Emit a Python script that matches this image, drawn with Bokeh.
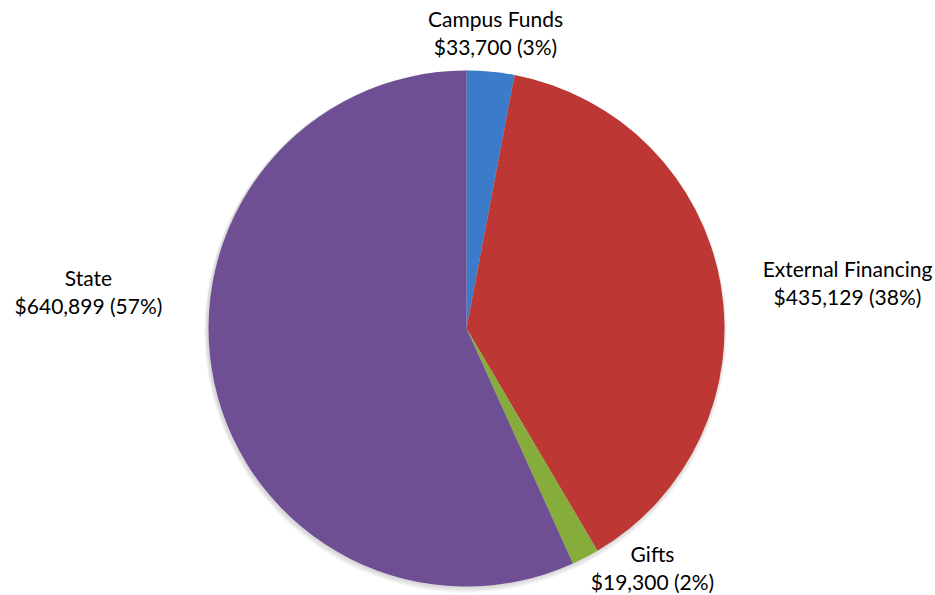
import math
from bokeh.plotting import figure
from bokeh.models import Range1d, ColumnDataSource
from bokeh.core.properties import value
from bokeh.embed import file_html
from bokeh.resources import INLINE

categories = ["Campus Funds", "External Financing", "Gifts", "State"]
amounts = [33700, 435129, 19300, 640899]
percent_labels = [3, 38, 2, 57]
colors = ["#3c7bca", "#bd3734", "#86ac3b", "#6f4f94"]

total = float(sum(amounts))
starts, ends = [], []
acc = 0.0
for v in amounts:
    a0 = math.pi / 2 - 2 * math.pi * acc / total
    acc += v
    a1 = math.pi / 2 - 2 * math.pi * acc / total
    starts.append(a0)
    ends.append(a1)

W, H = 935, 595
p = figure(width=W, height=H, output_backend="svg", toolbar_location=None,
           x_range=Range1d(0, W), y_range=Range1d(0, H), min_border=0)
p.axis.visible = False
p.grid.visible = False
p.outline_line_color = None
p.background_fill_color = "white"

cx, cy, r = 466, H - 328, 258

# soft shadow
for i, a in enumerate([0.05, 0.05, 0.05]):
    p.circle(x=cx - 1, y=cy - 1 - i, radius=r + 1 + i, fill_color="black",
             fill_alpha=a, line_color=None)

src = ColumnDataSource(dict(start=starts, end=ends, color=colors))
p.wedge(x=cx, y=cy, radius=r, start_angle="start", end_angle="end",
        direction="clock", fill_color="color", line_color=None, source=src)

# label positions (screen coords of line centers)
label_pos = [(495, 18), (847, 268), (652, 553), (88, 277)]
line_gap = 28
tx, ty1, ty2, t1, t2 = [], [], [], [], []
for name, v, pc, (lx, ly) in zip(categories, amounts, percent_labels, label_pos):
    tx.append(lx)
    ty1.append(H - ly)
    ty2.append(H - ly - line_gap)
    t1.append(name)
    t2.append(f"${v:,} ({pc}%)")

p.text(x=tx, y=ty1, text=t1, text_align="center", text_baseline="middle",
       text_font=value("Lato"), text_font_size="21px", text_color="#000000")
p.text(x=tx, y=ty2, text=t2, text_align="center", text_baseline="middle",
       text_font=value("Lato"), text_font_size="21px", text_color="#000000")

open("out.html", "w").write(file_html(p, INLINE))
